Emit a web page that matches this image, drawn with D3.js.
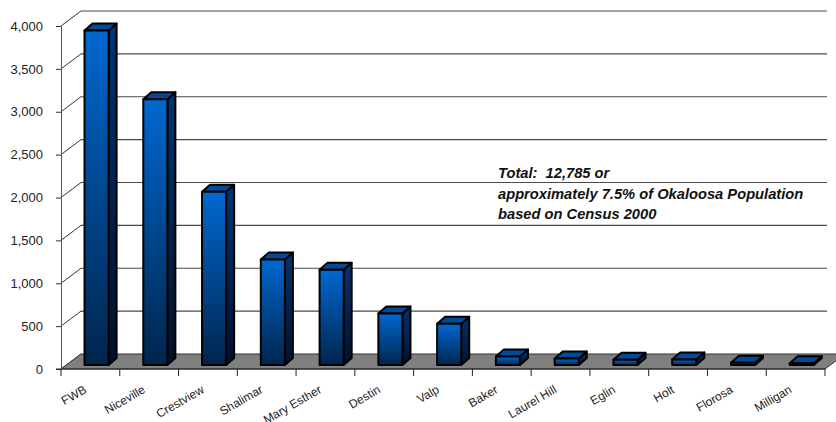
<!DOCTYPE html>
<html><head><meta charset="utf-8">
<script src="https://cdn.jsdelivr.net/npm/d3@7"></script>
<style>body{margin:0;background:#fff}svg{display:block;font-family:"Liberation Sans",Arial,sans-serif}</style>
</head><body><svg id="c" width="836" height="422"></svg>
<script>
const categories = ["FWB","Niceville","Crestview","Shalimar","Mary Esther","Destin","Valp","Baker","Laurel Hill","Eglin","Holt","Florosa","Milligan"];
const values = [3900,3100,2020,1230,1110,600,480,100,75,60,65,25,20];
const yTicks = [0,500,1000,1500,2000,2500,3000,3500,4000];
const noteLines = ["Total:  12,785 or","approximately 7.5% of Okaloosa Population","based on Census 2000"];

const svg = d3.select("#c");
const x = d3.scaleBand().domain(categories).range([61,825]).padding(0);
const y = d3.scaleLinear().domain([0,4000]).range([369,26]);
const D = {dx:20, dy:-15};      // wall depth
const BF = {dx:5, dy:-4};       // bar front offset into depth
const BD = {dx:8, dy:-7};       // bar depth
const gridRight = 827;

const defs = svg.append("defs");
const gf = defs.append("linearGradient").attr("id","gFront").attr("x1",0).attr("y1",0).attr("x2",0).attr("y2",1);
gf.append("stop").attr("offset","0%").attr("stop-color","#0068d0");
gf.append("stop").attr("offset","100%").attr("stop-color","#00254d");
const gs = defs.append("linearGradient").attr("id","gSide").attr("x1",0).attr("y1",0).attr("x2",0).attr("y2",1);
gs.append("stop").attr("offset","0%").attr("stop-color","#003570");
gs.append("stop").attr("offset","100%").attr("stop-color","#00112a");

const [x0,x1] = x.range();
// back wall grid lines and diagonals
const grid = svg.append("g");
yTicks.forEach(t=>{
  const yy = y(t);
  if (t>0) grid.append("line").attr("x1",x0+D.dx).attr("x2",gridRight).attr("y1",yy+D.dy).attr("y2",yy+D.dy)
      .attr("stroke","#4a4a4a").attr("stroke-width",1.2);
  grid.append("line").attr("x1",x0).attr("y1",yy).attr("x2",x0+D.dx).attr("y2",yy+D.dy)
      .attr("stroke","#333").attr("stroke-width",1);
});

// floor
const y0 = y(0);
svg.append("path")
  .attr("d",`M${x0},${y0}L${x1},${y0}L${x1+D.dx},${y0+D.dy}L${x0+D.dx},${y0+D.dy}Z`)
  .attr("fill","#808080").attr("stroke","#333").attr("stroke-width",1);

// y axis
const ya = svg.append("g").attr("transform",`translate(${x0},0)`)
  .call(d3.axisLeft(y).tickValues(yTicks).tickFormat(d3.format(",")).tickSizeInner(5).tickSizeOuter(0).tickPadding(13));
ya.select(".domain").attr("stroke","#555");
ya.selectAll(".tick line").attr("stroke","#333");
ya.selectAll("text").style("font-size","13px").style("font-family","'Liberation Sans', Arial, sans-serif").attr("fill","#222");

// bars
const bw = x.bandwidth()*0.41;
const bars = svg.append("g").selectAll("g").data(categories.map((c,i)=>({c,v:values[i]}))).join("g");
bars.each(function(d){
  const g = d3.select(this);
  const L = x(d.c) + x.bandwidth()*0.315 + BF.dx;
  const R = L + bw;
  const T = y(d.v) + BF.dy;
  const B = y(0) + BF.dy;
  g.append("path").attr("d",`M${R},${T}L${R+BD.dx},${T+BD.dy}L${R+BD.dx},${B+BD.dy}L${R},${B}Z`)
    .attr("fill","url(#gSide)").attr("stroke","#000").attr("stroke-width",2).attr("stroke-linejoin","round");
  g.append("path").attr("d",`M${L},${T}L${L+BD.dx},${T+BD.dy}L${R+BD.dx},${T+BD.dy}L${R},${T}Z`)
    .attr("fill","#004a98").attr("stroke","#000").attr("stroke-width",2).attr("stroke-linejoin","round");
  g.append("rect").attr("x",L).attr("y",T).attr("width",bw).attr("height",Math.max(0.5,B-T))
    .attr("fill","url(#gFront)").attr("stroke","#000").attr("stroke-width",2).attr("stroke-linejoin","round");
});

// x ticks at band edges
const edges = categories.map(c=>x(c)).concat([x1]);
svg.append("g").selectAll("line").data(edges).join("line")
  .attr("x1",d=>d).attr("x2",d=>d).attr("y1",y0).attr("y2",y0+7)
  .attr("stroke","#222").attr("stroke-width",1);
svg.append("line").attr("x1",x0-5).attr("x2",x1).attr("y1",y0).attr("y2",y0).attr("stroke","#222");

// x labels
const xa = svg.append("g").attr("transform",`translate(0,392)`)
  .call(d3.axisBottom(x).tickSize(0).tickPadding(0));
xa.select(".domain").remove();
xa.selectAll("text").attr("y",0).attr("dy",0).attr("text-anchor","end")
  .attr("transform","translate(-3,0) rotate(-30)")
  .style("font-size","12px").style("font-family","'Liberation Sans', Arial, sans-serif").attr("fill","#222");

// note
const note = svg.append("text").style("font-size","14.7px").attr("font-weight","bold").attr("font-style","italic")
  .attr("fill","#111").style("white-space","pre");
const baselines = [178,199,219];
noteLines.forEach((t,i)=>note.append("tspan").attr("x",498).attr("y",baselines[i]).text(t));
</script></body></html>
